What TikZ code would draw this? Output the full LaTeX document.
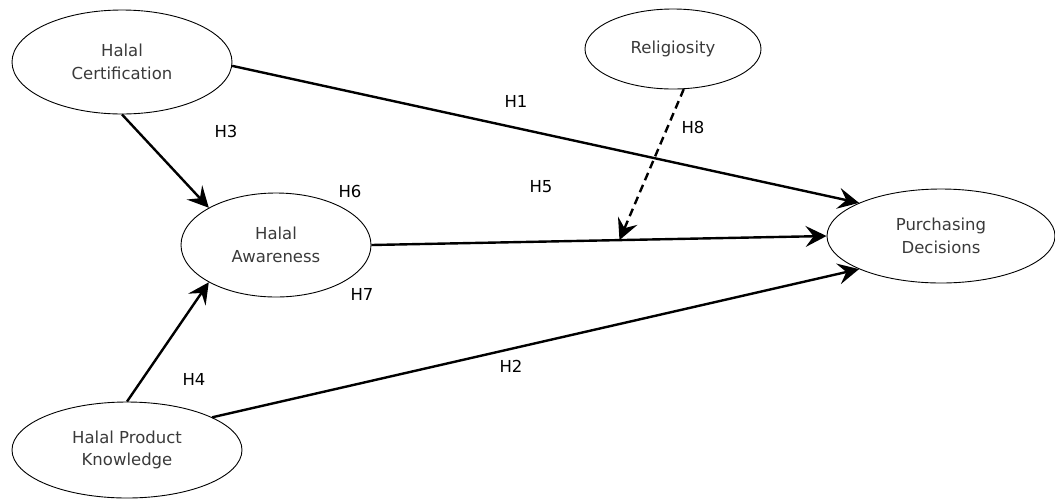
\documentclass[tikz,border=0pt]{standalone}
\usepackage{fontspec}
\setmainfont{DejaVu Sans}
\usetikzlibrary{shapes.geometric,arrows.meta,calc}
\definecolor{nodetext}{HTML}{3A3A3A}
\begin{document}
\begin{tikzpicture}[x=1pt,y=-1pt,
 construct/.style={ellipse,draw,line width=0.9pt,inner sep=0pt,align=center,
   text=nodetext,font=\fontsize{16.5}{22.5}\selectfont},
 hyp/.style={inner sep=0pt,font=\fontsize{16.5}{20}\selectfont},
 path/.style={line width=2.4pt,-{Stealth[length=21pt,width=21pt,inset=8pt]}}]
 \useasboundingbox (0,0) rectangle (1055,499);
 % constructs
 \node[construct,minimum width=220,minimum height=104] (hc) at (122,62) {Halal\\Certification};
 \node[construct,minimum width=176,minimum height=80] (rel) at (673,49) {Religiosity};
 \node[construct,minimum width=190,minimum height=104] (ha) at (276,245) {Halal\\Awareness};
 \node[construct,minimum width=228,minimum height=94] (pd) at (941,236) {Purchasing\\Decisions};
 \node[construct,minimum width=230,minimum height=96] (hpk) at (127,450) {Halal Product\\Knowledge};
 % paths
 \draw[path] (hc.-2) -- (pd.158);
 \draw[path] (hc.south) -- (ha.151);
 \draw[path] (ha.east) -- (pd.west);
 \draw[path] (hpk.north) -- (ha.-151);
 \draw[path] (hpk.21) -- (pd.-158);
 \coordinate (mod) at ($(ha.east)!0.545!(pd.west)$);
 \draw[path,dash pattern=on 8pt off 5pt] (rel.-75) -- (mod);
 % hypotheses
 \node[hyp] (h1) at (516,101) {H1};
 \node[hyp] (h2) at (511,366) {H2};
 \node[hyp] (h3) at (226,131) {H3};
 \node[hyp] (h4) at (194,379) {H4};
 \node[hyp] (h5) at (541,187) {H5};
 \node[hyp] (h6) at (350,191) {H6};
 \node[hyp] (h7) at (362,294) {H7};
 \node[hyp] (h8) at (693,127) {H8};
\end{tikzpicture}
\end{document}
